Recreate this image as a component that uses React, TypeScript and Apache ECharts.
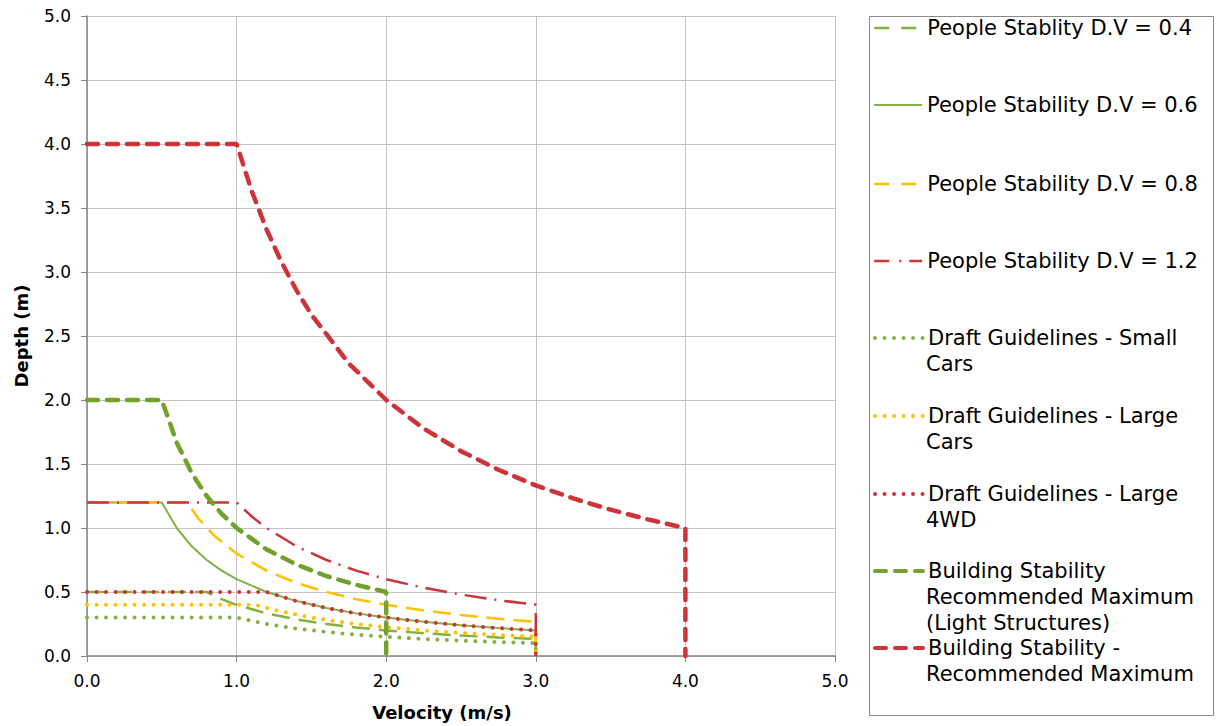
import React, { useEffect, useRef } from "react";
import * as echarts from "echarts";

// Velocity (m/s), Depth (m) pairs
const dv04: [number, number][] = [[0, 0.5], [0.8, 0.5], [0.9, 0.444], [1.0, 0.4], [1.2, 0.333], [1.4, 0.286], [1.6, 0.25], [1.8, 0.222], [2.0, 0.2], [2.25, 0.178], [2.5, 0.16], [2.75, 0.145], [3.0, 0.133], [3.0, 0]];
const dv06: [number, number][] = [[0, 1.2], [0.5, 1.2], [0.6, 1.0], [0.7, 0.857], [0.8, 0.75], [0.9, 0.667], [1.0, 0.6], [1.2, 0.5], [1.4, 0.429], [1.6, 0.375], [1.8, 0.333], [2.0, 0.3], [2.25, 0.267], [2.5, 0.24], [2.75, 0.218], [3.0, 0.2], [3.0, 0]];
const dv08: [number, number][] = [[0, 1.2], [0.667, 1.2], [0.75, 1.067], [0.85, 0.941], [1.0, 0.8], [1.2, 0.667], [1.4, 0.571], [1.6, 0.5], [1.8, 0.444], [2.0, 0.4], [2.25, 0.356], [2.5, 0.32], [2.75, 0.291], [3.0, 0.267], [3.0, 0]];
const dv12: [number, number][] = [[0, 1.2], [1.0, 1.2], [1.1, 1.091], [1.2, 1.0], [1.4, 0.857], [1.6, 0.75], [1.8, 0.667], [2.0, 0.6], [2.25, 0.533], [2.5, 0.48], [2.75, 0.436], [3.0, 0.4], [3.0, 0]];
const smallCars: [number, number][] = [[0, 0.3], [1.0, 0.3], [1.2, 0.25], [1.4, 0.214], [1.6, 0.188], [1.8, 0.167], [2.0, 0.15], [2.25, 0.133], [2.5, 0.12], [2.75, 0.109], [3.0, 0.1], [3.0, 0]];
const largeCars: [number, number][] = [[0, 0.4], [1.125, 0.4], [1.25, 0.36], [1.5, 0.3], [1.75, 0.257], [2.0, 0.225], [2.25, 0.2], [2.5, 0.18], [2.75, 0.164], [3.0, 0.15], [3.0, 0]];
const large4wd: [number, number][] = [[0, 0.5], [1.2, 0.5], [1.4, 0.429], [1.6, 0.375], [1.8, 0.333], [2.0, 0.3], [2.25, 0.267], [2.5, 0.24], [2.75, 0.218], [3.0, 0.2], [3.0, 0]];
const buildingLight: [number, number][] = [[0, 2.0], [0.5, 2.0], [0.6, 1.667], [0.7, 1.429], [0.8, 1.25], [0.9, 1.111], [1.0, 1.0], [1.2, 0.833], [1.4, 0.714], [1.6, 0.625], [1.8, 0.556], [2.0, 0.5], [2.0, 0]];
const buildingMax: [number, number][] = [[0, 4.0], [1.0, 4.0], [1.1, 3.636], [1.2, 3.333], [1.3, 3.077], [1.4, 2.857], [1.5, 2.667], [1.75, 2.286], [2.0, 2.0], [2.25, 1.778], [2.5, 1.6], [2.75, 1.455], [3.0, 1.333], [3.25, 1.231], [3.5, 1.143], [3.75, 1.067], [4.0, 1.0], [4.0, 0]];

const seriesNames = [
  "People Stablity D.V = 0.4",
  "People Stability D.V = 0.6",
  "People Stability D.V = 0.8",
  "People Stability D.V = 1.2",
  "Draft Guidelines - Small Cars",
  "Draft Guidelines - Large Cars",
  "Draft Guidelines - Large 4WD",
  "Building Stability Recommended Maximum (Light Structures)",
  "Building Stability - Recommended Maximum",
];
const legendLines: string[][] = [
  ["People Stablity D.V = 0.4"],
  ["People Stability D.V = 0.6"],
  ["People Stability D.V = 0.8"],
  ["People Stability D.V = 1.2"],
  ["Draft Guidelines - Small", "Cars"],
  ["Draft Guidelines - Large", "Cars"],
  ["Draft Guidelines - Large", "4WD"],
  ["Building Stability", "Recommended Maximum", "(Light Structures)"],
  ["Building Stability -", "Recommended Maximum"],
];
const legendY = [28, 105, 184, 261, 338, 416, 494, 571, 648];

const GREEN = "#84B13F";
const DGREEN = "#72A22C";
const ORANGE = "#FFC000";
const RED = "#CD3338";
const FONT = "DejaVu Sans";

export default function App() {
  const ref = useRef<HTMLDivElement>(null);
  useEffect(() => {
    if (!ref.current) return;
    const chart = echarts.init(ref.current, undefined, { renderer: "svg" });
    const styles: any[] = [
      { data: dv04, color: GREEN, width: 2.5, type: [18, 9], cap: "butt", legendType: [15, 12] },
      { data: dv06, color: GREEN, width: 2, type: "solid", cap: "butt", legendType: "solid" },
      { data: dv08, color: ORANGE, width: 2.5, type: [18, 9], cap: "butt", legendType: [15, 12] },
      { data: dv12, color: RED, width: 2.5, type: [22, 8, 2, 8], cap: "butt", legendType: [15, 10, 2, 8] },
      { data: smallCars, color: GREEN, width: 4, type: [0.01, 9.5], cap: "round", legendType: [0.01, 9.5] },
      { data: largeCars, color: ORANGE, width: 4, type: [0.01, 9.5], cap: "round", legendType: [0.01, 9.5] },
      { data: large4wd, color: RED, width: 4, type: [0.01, 9.5], cap: "round", legendType: [0.01, 9.5] },
      { data: buildingLight, color: DGREEN, width: 4.5, type: [11, 9], cap: "round", legendType: [11, 9] },
      { data: buildingMax, color: RED, width: 4.5, type: [11, 9], cap: "round", legendType: [11, 9] },
    ];
    const series = styles.map((s, i) => ({
      name: seriesNames[i],
      type: "line",
      data: s.data,
      showSymbol: false,
      symbol: "none",
      color: s.color,
      lineStyle: { color: s.color, width: s.width, type: s.type, cap: s.cap },
    }));
    const legends = seriesNames.map((n, i) => ({
      data: [n],
      left: 873,
      top: legendY[i] - 12,
      orient: "vertical",
      padding: 0,
      itemWidth: 48,
      itemHeight: 14,
      itemGap: 5,
      selectedMode: false,
      itemStyle: { opacity: 0 },
      lineStyle: {
        color: styles[i].color,
        width: Math.min(styles[i].width, 4),
        type: styles[i].legendType,
        cap: styles[i].cap,
      },
      formatter: () => legendLines[i][0],
      textStyle: { fontFamily: FONT, fontSize: 21, color: "#000", lineHeight: 24 },
    }));
    const extraTexts: any[] = [];
    legendLines.forEach((lines, i) => {
      lines.slice(1).forEach((t, j) => {
        extraTexts.push({
          type: "text",
          left: 926,
          top: legendY[i] + 26 * (j + 1) - 12,
          style: { text: t, fontFamily: FONT, fontSize: 21, fill: "#000", lineHeight: 24 },
        });
      });
    });
    chart.setOption({
      animation: false,
      backgroundColor: "#fff",
      grid: { left: 87, right: 381, top: 16, bottom: 68 },
      xAxis: {
        type: "value",
        min: 0,
        max: 5,
        interval: 1,
        name: "Velocity (m/s)",
        nameLocation: "middle",
        nameGap: 47,
        nameTextStyle: { fontFamily: FONT, fontWeight: "bold", fontSize: 18, color: "#000", padding: [0, 38, 0, 0] },
        axisLine: { onZero: false, lineStyle: { color: "#868686", width: 1.5 } },
        axisTick: { show: true, length: 6, lineStyle: { color: "#868686" } },
        axisLabel: { margin: 16, fontFamily: FONT, fontSize: 17, color: "#000", formatter: (v: number) => v.toFixed(1) },
        splitLine: { show: true, lineStyle: { color: "#c4c4c4", width: 1 } },
      },
      yAxis: {
        type: "value",
        min: 0,
        max: 5,
        interval: 0.5,
        name: "Depth (m)",
        nameLocation: "middle",
        nameGap: 57,
        nameTextStyle: { fontFamily: FONT, fontWeight: "bold", fontSize: 18, color: "#000" },
        axisLine: { show: true, onZero: false, lineStyle: { color: "#868686", width: 1.5 } },
        axisTick: { show: true, length: 6, lineStyle: { color: "#868686" } },
        axisLabel: { margin: 16, fontFamily: FONT, fontSize: 17, color: "#000", formatter: (v: number) => v.toFixed(1) },
        splitLine: { show: true, lineStyle: { color: "#c4c4c4", width: 1 } },
      },
      legend: legends,
      series,
      graphic: [
        {
          type: "rect",
          left: 867,
          top: 14,
          shape: { width: 344, height: 699 },
          style: { fill: "none", stroke: "#8a8a8a", lineWidth: 1 },
          z: -1,
        },
        ...extraTexts,
      ],
    });
    return () => chart.dispose();
  }, []);
  return <div ref={ref} style={{ position: "absolute", left: 0, top: 0, width: 1216, height: 726 }} />;
}
